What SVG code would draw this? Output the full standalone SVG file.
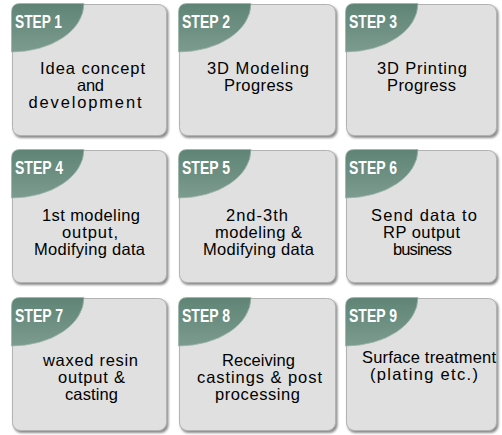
<svg xmlns="http://www.w3.org/2000/svg" width="502" height="435" viewBox="0 0 502 435">
  <defs>
    <linearGradient id="tabFill" x1="0" y1="0" x2="0" y2="1">
      <stop offset="0" stop-color="#5f8476"/>
      <stop offset="1" stop-color="#7b9b8e"/>
    </linearGradient>
    <filter id="soft" x="-5%" y="-5%" width="110%" height="110%">
      <feGaussianBlur stdDeviation="0.8"/>
    </filter>
  </defs>
  <style>
    .shadow { fill: #8c8c8c; filter: url(#soft); }
    .card { fill: #e0e0e0; stroke: #b2b2b2; stroke-width: 1; }
    .tab { fill: url(#tabFill); stroke: #9db5ab; stroke-width: 0.8; }
    .step { font-family: "Liberation Sans", Arial, sans-serif; font-weight: bold; font-size: 17.5px; fill: #ffffff; }
    .body { font-family: "Liberation Sans", Arial, sans-serif; font-size: 16.5px; fill: #000000; }
  </style>
  <rect width="502" height="435" fill="#ffffff"/>

  <!-- Row 1 -->
  <g id="step1">
    <rect class="shadow" x="13.5" y="6" width="155" height="132" rx="8"/>
    <rect class="card" x="12.5" y="4.5" width="154" height="131" rx="8"/>
    <path class="tab" d="M11.5,12 Q11.5,3.5 20,3.5 L84,3.5 A72.5,48.5 0 0 1 11.5,52 Z"/>
    <text class="step" x="15" y="27.5" textLength="47" lengthAdjust="spacingAndGlyphs">STEP 1</text>
    <text class="body" x="40" y="74" textLength="105" lengthAdjust="spacing">Idea concept</text>
    <text class="body" x="77" y="91" textLength="27" lengthAdjust="spacing">and</text>
    <text class="body" x="28.5" y="108" textLength="113" lengthAdjust="spacing">development</text>
  </g>
  <g id="step2">
    <rect class="shadow" x="180.5" y="6" width="157" height="132" rx="8"/>
    <rect class="card" x="179.5" y="4.5" width="156" height="131" rx="8"/>
    <path class="tab" d="M178.5,12 Q178.5,3.5 187,3.5 L251,3.5 A72.5,48.5 0 0 1 178.5,52 Z"/>
    <text class="step" x="182" y="27.5" textLength="48" lengthAdjust="spacingAndGlyphs">STEP 2</text>
    <text class="body" x="207" y="74" textLength="102" lengthAdjust="spacing">3D Modeling</text>
    <text class="body" x="224" y="91" textLength="69" lengthAdjust="spacing">Progress</text>
  </g>
  <g id="step3">
    <rect class="shadow" x="347.5" y="6" width="151" height="132" rx="8"/>
    <rect class="card" x="346.5" y="4.5" width="150" height="131" rx="8"/>
    <path class="tab" d="M345.5,12 Q345.5,3.5 354,3.5 L418,3.5 A72.5,48.5 0 0 1 345.5,52 Z"/>
    <text class="step" x="349" y="27.5" textLength="48" lengthAdjust="spacingAndGlyphs">STEP 3</text>
    <text class="body" x="377" y="74" textLength="90" lengthAdjust="spacing">3D Printing</text>
    <text class="body" x="387" y="91" textLength="69" lengthAdjust="spacing">Progress</text>
  </g>

  <!-- Row 2 -->
  <g id="step4">
    <rect class="shadow" x="13.5" y="152" width="155" height="133" rx="8"/>
    <rect class="card" x="12.5" y="150.5" width="154" height="132" rx="8"/>
    <path class="tab" d="M11.5,158 Q11.5,149.5 20,149.5 L84,149.5 A72.5,48.5 0 0 1 11.5,198 Z"/>
    <text class="step" x="15" y="173.5" textLength="48" lengthAdjust="spacingAndGlyphs">STEP 4</text>
    <text class="body" x="42" y="221" textLength="98" lengthAdjust="spacing">1st modeling</text>
    <text class="body" x="62" y="238" textLength="56" lengthAdjust="spacing">output,</text>
    <text class="body" x="34" y="255" textLength="111" lengthAdjust="spacing">Modifying data</text>
  </g>
  <g id="step5">
    <rect class="shadow" x="180.5" y="152" width="157" height="133" rx="8"/>
    <rect class="card" x="179.5" y="150.5" width="156" height="132" rx="8"/>
    <path class="tab" d="M178.5,158 Q178.5,149.5 187,149.5 L251,149.5 A72.5,48.5 0 0 1 178.5,198 Z"/>
    <text class="step" x="182" y="173.5" textLength="48" lengthAdjust="spacingAndGlyphs">STEP 5</text>
    <text class="body" x="226" y="221" textLength="62" lengthAdjust="spacing">2nd-3th</text>
    <text class="body" x="215" y="238" textLength="87" lengthAdjust="spacing">modeling &amp;</text>
    <text class="body" x="203" y="255" textLength="111" lengthAdjust="spacing">Modifying data</text>
  </g>
  <g id="step6">
    <rect class="shadow" x="347.5" y="152" width="151" height="133" rx="8"/>
    <rect class="card" x="346.5" y="150.5" width="150" height="132" rx="8"/>
    <path class="tab" d="M345.5,158 Q345.5,149.5 354,149.5 L418,149.5 A72.5,48.5 0 0 1 345.5,198 Z"/>
    <text class="step" x="349" y="173.5" textLength="48" lengthAdjust="spacingAndGlyphs">STEP 6</text>
    <text class="body" x="371" y="221" textLength="106" lengthAdjust="spacing">Send data to</text>
    <text class="body" x="383" y="238" textLength="77" lengthAdjust="spacing">RP output</text>
    <text class="body" x="393" y="255" textLength="59" lengthAdjust="spacing">business</text>
  </g>

  <!-- Row 3 -->
  <g id="step7">
    <rect class="shadow" x="13.5" y="300" width="155" height="133" rx="8"/>
    <rect class="card" x="12.5" y="298.5" width="154" height="132" rx="8"/>
    <path class="tab" d="M11.5,306 Q11.5,297.5 20,297.5 L84,297.5 A72.5,48.5 0 0 1 11.5,346 Z"/>
    <text class="step" x="15" y="321.5" textLength="48" lengthAdjust="spacingAndGlyphs">STEP 7</text>
    <text class="body" x="43" y="366" textLength="95" lengthAdjust="spacing">waxed resin</text>
    <text class="body" x="58" y="383" textLength="67" lengthAdjust="spacing">output &amp;</text>
    <text class="body" x="65" y="400" textLength="53" lengthAdjust="spacing">casting</text>
  </g>
  <g id="step8">
    <rect class="shadow" x="180.5" y="300" width="157" height="133" rx="8"/>
    <rect class="card" x="179.5" y="298.5" width="156" height="132" rx="8"/>
    <path class="tab" d="M178.5,306 Q178.5,297.5 187,297.5 L251,297.5 A72.5,48.5 0 0 1 178.5,346 Z"/>
    <text class="step" x="182" y="321.5" textLength="48" lengthAdjust="spacingAndGlyphs">STEP 8</text>
    <text class="body" x="222" y="366" textLength="73" lengthAdjust="spacing">Receiving</text>
    <text class="body" x="197" y="383" textLength="125" lengthAdjust="spacing">castings &amp; post</text>
    <text class="body" x="215" y="400" textLength="85" lengthAdjust="spacing">processing</text>
  </g>
  <g id="step9">
    <rect class="shadow" x="347.5" y="300" width="151" height="133" rx="8"/>
    <rect class="card" x="346.5" y="298.5" width="150" height="132" rx="8"/>
    <path class="tab" d="M345.5,306 Q345.5,297.5 354,297.5 L418,297.5 A72.5,48.5 0 0 1 345.5,346 Z"/>
    <text class="step" x="349" y="321.5" textLength="48" lengthAdjust="spacingAndGlyphs">STEP 9</text>
    <text class="body" x="362" y="363" textLength="134" lengthAdjust="spacing">Surface treatment</text>
    <text class="body" x="370" y="380" textLength="108" lengthAdjust="spacing">(plating etc.)</text>
  </g>

  <!-- no connectors between the steps -->
  <g id="connectors"/>
</svg>
